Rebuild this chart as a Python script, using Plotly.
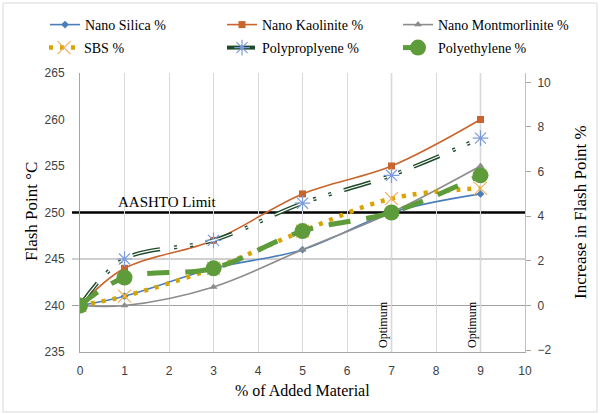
import plotly.graph_objects as go

# ---- data ----
x_pct = [0, 1, 3, 5, 7, 9]
nano_silica = [240, 241, 244, 246, 250, 252]
nano_kaolinite = [240, 244, 247, 252, 255, 260]
nano_montmorlinite = [240, 240, 242, 246, 250, 255]
sbs = [240, 241, 244, 248, 251.5, 252.6]
polypropylene = [240, 245, 247, 251, 254, 258]
polyethylene = [240, 243, 244, 248, 250, 254]

x_ticks = list(range(0, 11))
left_ticks = [235, 240, 245, 250, 255, 260, 265]
right_ticks = [-2, 0, 2, 4, 6, 8, 10]
aashto_limit = 250
optimum_x = [7, 9]
base_fp = 240.0

SERIF = "Liberation Serif"
SANS = "Liberation Sans"

# plot-area pixel geometry (for paper conversions)
L, R, T, B = 80, 525, 73, 352
def px(xp):
    return (xp - L) / (R - L)
def py(yp):
    return (B - yp) / (B - T)

fig = go.Figure()

def add(name, y, color, width, dash, symbol, msize, mcolor, legend, mline=0, mlinecolor=None):
    fig.add_trace(go.Scatter(
        x=x_pct, y=y, name=name, mode="lines+markers",
        line=dict(color=color, width=width, dash=dash, shape="spline", smoothing=1.0),
        marker=dict(symbol=symbol, size=msize, color=mcolor,
                    line=dict(width=mline, color=mlinecolor or mcolor)),
        legend=legend,
    ))

add("Nano Silica %", nano_silica, "#4A7EBB", 1.6, "solid", "diamond", 6, "#4A7EBB", "legend")
add("Nano Kaolinite %", nano_kaolinite, "#C9652C", 1.6, "solid", "square", 7, "#C9652C", "legend2")
add("Nano Montmorlinite %", nano_montmorlinite, "#8C8C8C", 1.6, "solid", "triangle-up", 7, "#8C8C8C", "legend3")
add("SBS %", sbs, "#D9A400", 4.5, "4px,7px", "x-thin-open", 13, "#F0B15A", "legend4", 1.2, "#F0B15A")
add("Polyproplyene %", polypropylene, "#1E4A2A", 4, "28px,14px,3px,13px,3px,13px",
    "asterisk-open", 13, "#7C9BDB", "legend5", 1.2, "#7C9BDB")
# inner light line of the compound polypropylene line
fig.add_trace(go.Scatter(
    x=x_pct, y=polypropylene, mode="lines", showlegend=False, hoverinfo="skip",
    line=dict(color="#FFFFFF", width=1.2, dash="28px,14px,3px,13px,3px,13px", shape="spline", smoothing=1.0),
))
add("Polyethylene %", polyethylene, "#5E9B3B", 5, "22px,16px", "circle", 16, "#5E9B3B", "legend6")

# dummy trace so that the right axis is drawn
fig.add_trace(go.Scatter(x=[0], y=[0], yaxis="y2", mode="markers", marker=dict(opacity=0),
                         showlegend=False, hoverinfo="skip"))

shapes = []
# horizontal gridlines
for gy in [240, 245]:
    shapes.append(dict(type="line", xref="paper", yref="y", x0=px(72), x1=1, y0=gy, y1=gy,
                       line=dict(color="#A0A0A0", width=1), layer="below"))
# AASHTO limit
shapes.append(dict(type="line", xref="paper", yref="y", x0=px(72), x1=1, y0=aashto_limit, y1=aashto_limit,
                   line=dict(color="#000000", width=2.5), layer="below"))
# optimum lines
for ox in optimum_x:
    shapes.append(dict(type="line", xref="x", yref="paper", x0=ox, x1=ox, y0=0, y1=1,
                       line=dict(color="#7F7F7F", width=1.2), layer="below"))
# chart border
shapes.append(dict(type="rect", xref="paper", yref="paper", x0=px(3), x1=px(597), y0=py(412), y1=py(3),
                   line=dict(color="#D9D9D9", width=1), layer="below"))

annotations = [
    dict(text="AASHTO Limit", x=1.95, y=aashto_limit, xref="x", yref="y", yanchor="bottom", yshift=1,
         showarrow=False, font=dict(family=SERIF, size=15, color="#000")),
    dict(text="Flash Point °C", x=px(31), y=py(212), xref="paper", yref="paper", textangle=-90,
         xanchor="center", yanchor="middle",
         showarrow=False, font=dict(family=SERIF, size=17, color="#000")),
    dict(text="Increase in Flash Point %", x=px(580), y=py(212), xref="paper", yref="paper", textangle=-90,
         xanchor="center", yanchor="middle",
         showarrow=False, font=dict(family=SERIF, size=17, color="#000")),
    dict(text="% of Added Material", x=px(302), y=py(391), xref="paper", yref="paper",
         xanchor="center", yanchor="middle",
         showarrow=False, font=dict(family=SERIF, size=16, color="#000")),
]
for ox in optimum_x:
    annotations.append(dict(text="Optimum", x=ox, y=235, xref="x", yref="y", textangle=-90,
                            xanchor="right", yanchor="bottom", yshift=2, xshift=0, showarrow=False,
                            font=dict(family=SERIF, size=12, color="#000")))

def leg(xpix, ypix):
    return dict(orientation="h", x=px(xpix), y=py(ypix), xanchor="left", yanchor="middle",
                bgcolor="rgba(0,0,0,0)", font=dict(family=SERIF, size=14, color="#000000"),
                itemwidth=30)

fig.update_layout(
    width=600, height=414,
    font=dict(family=SERIF, size=14, color="#000000"),
    margin=dict(l=L, r=600 - R, t=T, b=414 - B, autoexpand=False),
    paper_bgcolor="#FFFFFF", plot_bgcolor="#FFFFFF",
    shapes=shapes, annotations=annotations,
    xaxis=dict(range=[0, 10], tickvals=x_ticks, showgrid=True, gridcolor="#D9D9D9", gridwidth=1,
               showline=True, linecolor="#A6A6A6", linewidth=1, zeroline=False, ticks="",
               ticklabelstandoff=8, tickfont=dict(family=SANS, size=12, color="#404040")),
    yaxis=dict(range=[235, 265], tickvals=left_ticks, showgrid=False, zeroline=False,
               showline=True, linecolor="#A6A6A6", linewidth=1, ticks="",
               ticklabelstandoff=12, tickfont=dict(family=SANS, size=12, color="#404040")),
    yaxis2=dict(range=[(235 / base_fp - 1) * 100, (265 / base_fp - 1) * 100], tickvals=right_ticks,
                overlaying="y", side="right", showgrid=False, zeroline=False,
                showline=True, linecolor="#BFBFBF", linewidth=1, ticks="outside", ticklen=5,
                tickcolor="#A6A6A6", ticklabelstandoff=4,
                tickfont=dict(family=SANS, size=12, color="#404040")),
    legend=leg(45, 25),
    legend2=leg(222, 25),
    legend3=leg(398, 25),
    legend4=leg(44, 48),
    legend5=leg(222, 48),
    legend6=leg(398, 48),
    showlegend=True,
)

fig.write_html("out.html")
